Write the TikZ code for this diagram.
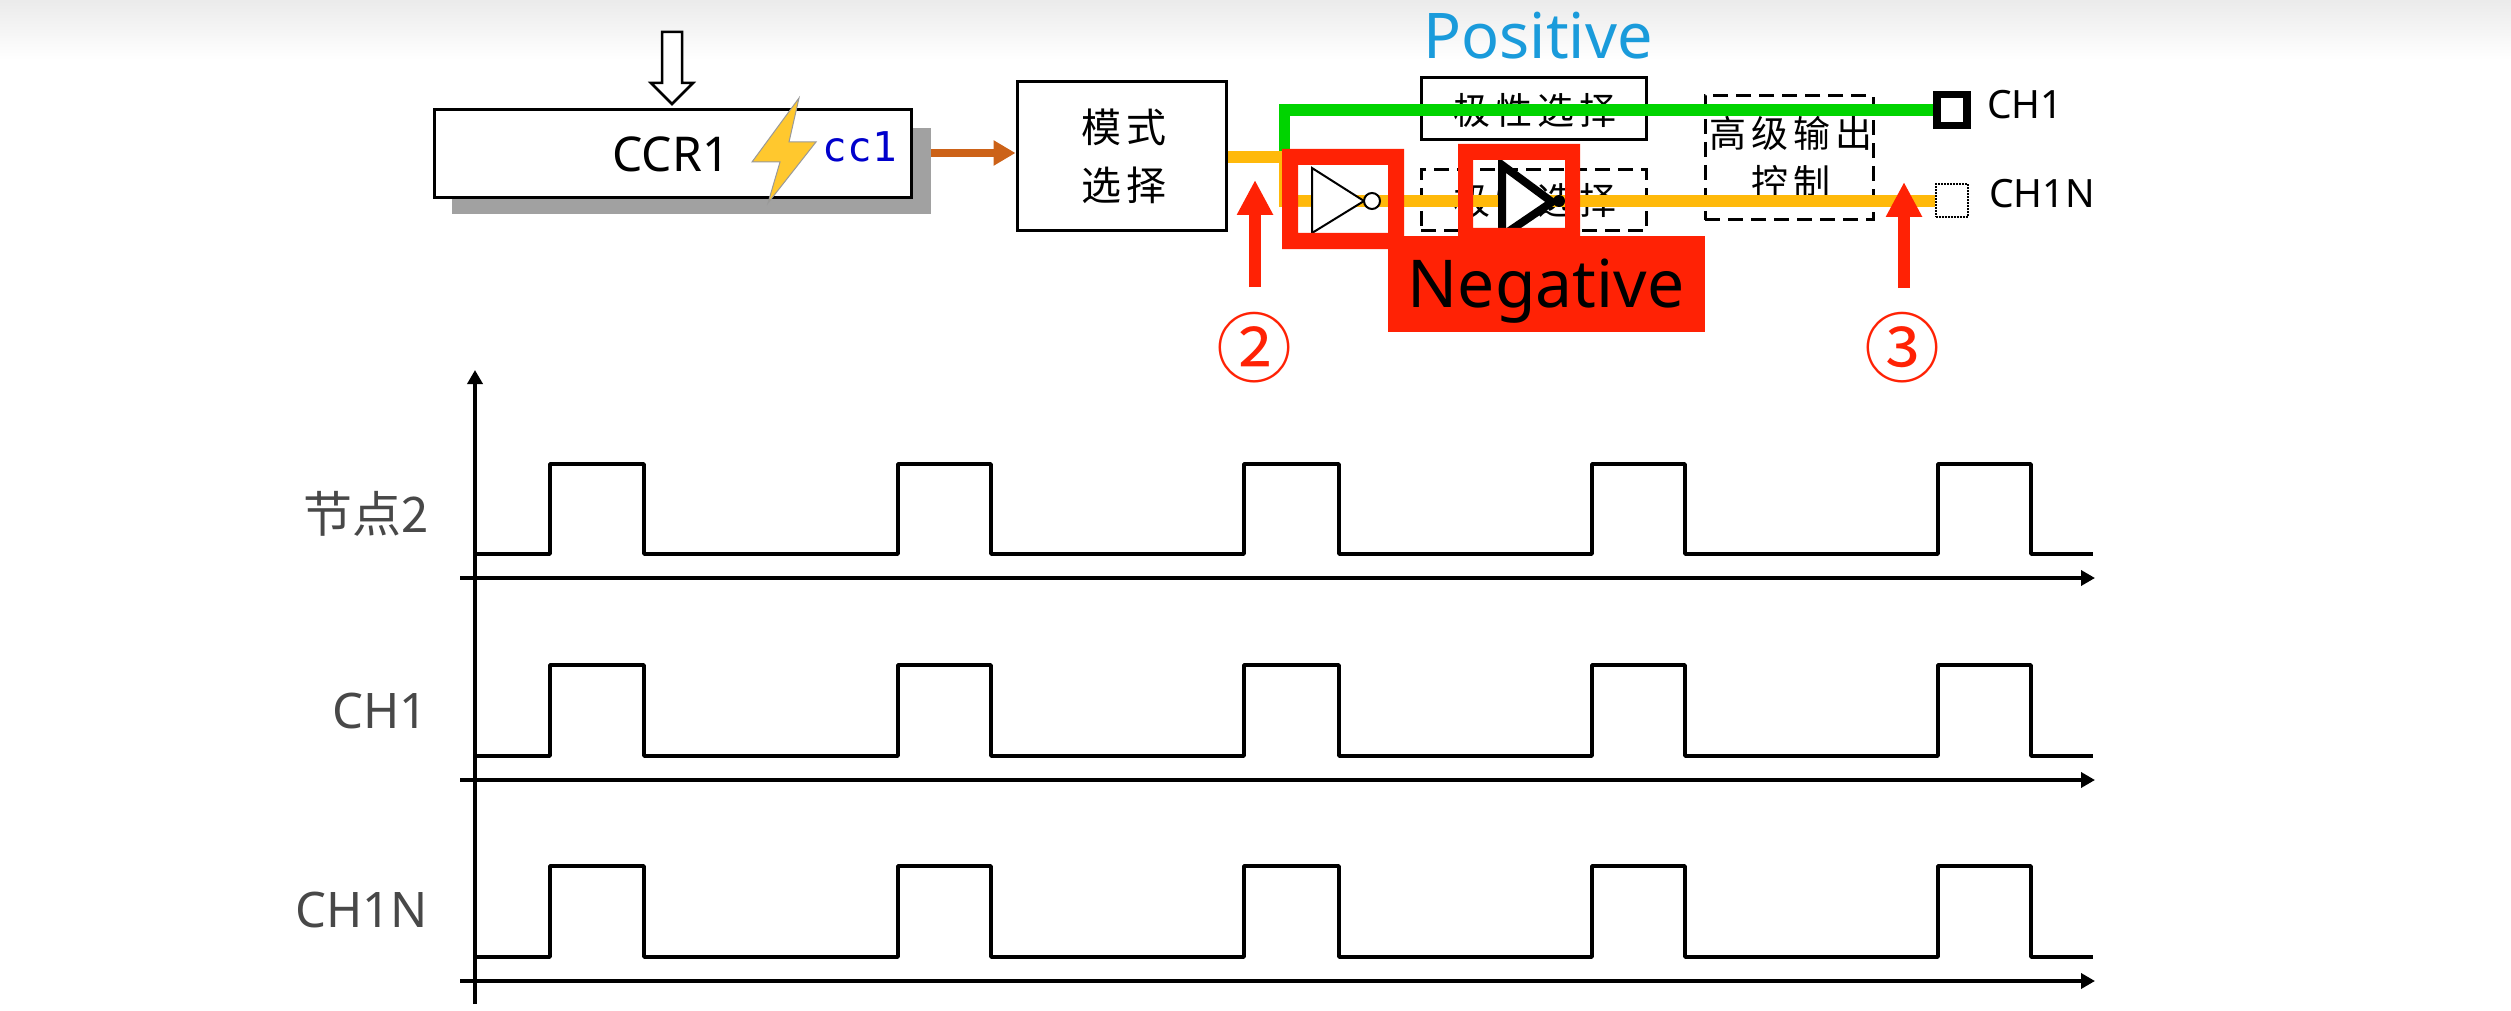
\documentclass[tikz,border=0pt]{standalone}
\usepackage{fontspec}
\setmainfont{Noto Sans}
\newfontfamily\cjkfont{Noto Sans CJK SC}
\newfontfamily\cjkwide[LetterSpace=14]{Noto Sans CJK SC}
\newfontfamily\monofont{DejaVu Sans Mono}
\usetikzlibrary{arrows.meta}
\newcommand{\pxsize}[1]{\fontsize{#1}{#1}\selectfont}
\definecolor{redbox}{HTML}{FF2205}
\definecolor{orangeline}{HTML}{FFB90A}
\definecolor{greenline}{HTML}{00D400}
\definecolor{brownline}{HTML}{CC6218}
\definecolor{posblue}{HTML}{1A9BDB}
\definecolor{labelgrey}{HTML}{484848}
\definecolor{boltfill}{HTML}{FFC82E}
\tikzset{
  x=1pt,y=-1pt,
  blockbox/.style={draw=black,line width=3pt,fill=white,inner sep=0pt},
  dashbox/.style={draw=black,line width=3pt,dash pattern=on 15pt off 8pt,inner sep=0pt},
  hanzi/.style={inner sep=0pt,font=\cjkwide\pxsize{37},align=center},
  pintext/.style={inner sep=0pt,anchor=west,text=black,font=\pxsize{39}},
  rowlabel/.style={inner sep=0pt,anchor=east,text=labelgrey,font=\pxsize{49}},
  waveline/.style={line width=3.5pt,line join=round},
  axisline/.style={line width=3.5pt,-{Triangle[length=14pt,width=15pt]}},
  redarrow/.style={draw=redbox,line width=12pt,-{Triangle[length=35pt,width=34pt]}},
  sigline/.style={line width=12pt},
  redframe/.style={fill=redbox,even odd rule},
  invert/.style={draw=black,fill=white,line width=2pt,line join=miter},
  circnum/.style={inner sep=0pt,text=redbox,font=\cjkfont\pxsize{76}},
}
\begin{document}
\begin{tikzpicture}
\useasboundingbox (0,0) rectangle (2511,1011);
\fill[white] (0,0) rectangle (2511,1011);
\shade[top color=black!8,bottom color=white] (0,0) rectangle (2511,60);

% CCR1 block
\fill[black!37] (452,128) rectangle (931,214);
\node[blockbox,minimum width=477pt,minimum height=88pt] (ccr) at (672.5,154) {};
\node[inner sep=0pt,font=\pxsize{48}] (ccrtext) at (671,154) {CCR1};
\draw[line width=2.5pt,fill=white,line join=miter]
  (662,32)--(682,32)--(682,83)--(693,83)--(672,104)--(651,83)--(662,83)--cycle;
\fill[draw=black!40,line width=1pt,fill=boltfill]
  (799,98)--(752,162)--(780,162)--(768,203)--(816,142)--(789,142)--cycle;
\node[inner sep=0pt,text=blue!80!black,font=\monofont\pxsize{41}] (cc) at (860,147) {cc1};

% Mode block
\node[blockbox,minimum width=209pt,minimum height=149pt] (mode) at (1121.5,156.5) {};
\node[hanzi,font=\cjkwide\pxsize{40}] (modea) at (1124,127) {模式};
\node[hanzi,font=\cjkwide\pxsize{40}] (modeb) at (1124,185) {选择};
\draw[draw=brownline,line width=7.5pt,-{Triangle[length=22pt,width=24pt]}] (931,153) -- (mode.west |- 0,153);

% Polarity boxes
\node[blockbox,minimum width=225pt,minimum height=62pt] (polp) at (1533.5,109) {};
\node[hanzi] (polptext) at (1535,110) {极性选择};
\node[dashbox,minimum width=225pt,minimum height=61pt] (poln) at (1533.5,200.5) {};
\node[hanzi] (polntext) at (1535,200) {极性选择};
\node[dashbox,minimum width=168pt,minimum height=124pt] (adv) at (1789,158) {};
\node[hanzi] (advtext) at (1791,133) {高级输出};
\node[hanzi] (advtextb) at (1791,182) {控制};

% Pins
\node[draw=black,line width=7.5pt,minimum width=30pt,minimum height=31pt,inner sep=0pt] (ch1) at (1952,110) {};
\node[draw=black,line width=2pt,densely dotted,minimum width=32pt,minimum height=33pt,inner sep=0pt] (ch1n) at (1951.5,201) {};
\node[pintext] (ch1t) at (1987,105) {CH1};
\node[pintext] (ch1nt) at (1989,194) {CH1N};

% Signal lines
\coordinate (split) at (1284.5,157);
\coordinate (down) at (1284.5,207);
\draw[orangeline,line width=11pt] (split) -- (down);
\draw[orangeline,sigline] (mode.east |- split) -- (1290,157);
\draw[orangeline,sigline] (1279,201) -- (ch1n.west);
\draw[greenline,sigline] (ch1.west) -- (1279,110);
\draw[greenline,line width=11.5pt] (1284.5,104) -- (1284.5,151);

% Inverter 1
\fill[white] (1298,165) rectangle (1312,195) (1298,207) rectangle (1312,233);
\draw[invert] (1312,168)--(1312,233)--(1364,201)--cycle;
\draw[invert] (1372,201) circle[radius=8];
\fill[redframe] (1282,149) rectangle (1404,249) (1298,165) rectangle (1388,233);

% Negative label
\node[fill=redbox,minimum width=317pt,minimum height=96pt,inner sep=0pt] (neg) at (1546.5,284) {};
\node[inner sep=0pt,anchor=base,text=black,font=\pxsize{66}] (negt) at (1546,307) {Negative};

% Inverter 2
\begin{scope}
\clip (1473,160) rectangle (1565,228);
\draw[black,fill=white,line width=8pt,line join=miter] (1502,165)--(1552,202)--(1502,236)--cycle;
\fill[black] (1559,201) circle[radius=6];
\end{scope}
\fill[redframe] (1458,144) rectangle (1580,237) (1473,160) rectangle (1565,228);

% Positive label
\node[inner sep=0pt,anchor=base,text=posblue,font=\pxsize{63}] (post) at (1538,59) {Positive};

% Red arrows and numbers
\coordinate (a2s) at (1255,287);
\coordinate (a2e) at (1255,180);
\coordinate (a3s) at (1904,288);
\coordinate (a3e) at (1904,182);
\draw[redarrow] (a2s) -- (a2e);
\draw[redarrow] (a3s) -- (a3e);
\node[circnum] (n2) at (1254,348) {②};
\node[circnum] (n3) at (1902,348) {③};

% Timing diagram
\coordinate (ybot) at (475,1004);
\coordinate (ytop) at (475,370);
\draw[axisline] (ybot) -- (ytop);
\foreach \hi/\lo/\ba in {464/554/578,665/756/780,866/957/981}{
  \draw[waveline] (475,\lo)--(550,\lo)--(550,\hi)--(644,\hi)--(644,\lo)
    --(898,\lo)--(898,\hi)--(991,\hi)--(991,\lo)
    --(1244,\lo)--(1244,\hi)--(1339,\hi)--(1339,\lo)
    --(1592,\lo)--(1592,\hi)--(1685,\hi)--(1685,\lo)
    --(1938,\lo)--(1938,\hi)--(2031,\hi)--(2031,\lo)--(2093,\lo);
  \draw[axisline] (460,\ba) -- (2095,\ba);
}
\node[rowlabel,font=\cjkfont\pxsize{49}] (l1) at (429,514) {节点2};
\node[rowlabel] (l2) at (428,711) {CH1};
\node[rowlabel] (l3) at (428,910) {CH1N};
\end{tikzpicture}
\end{document}
